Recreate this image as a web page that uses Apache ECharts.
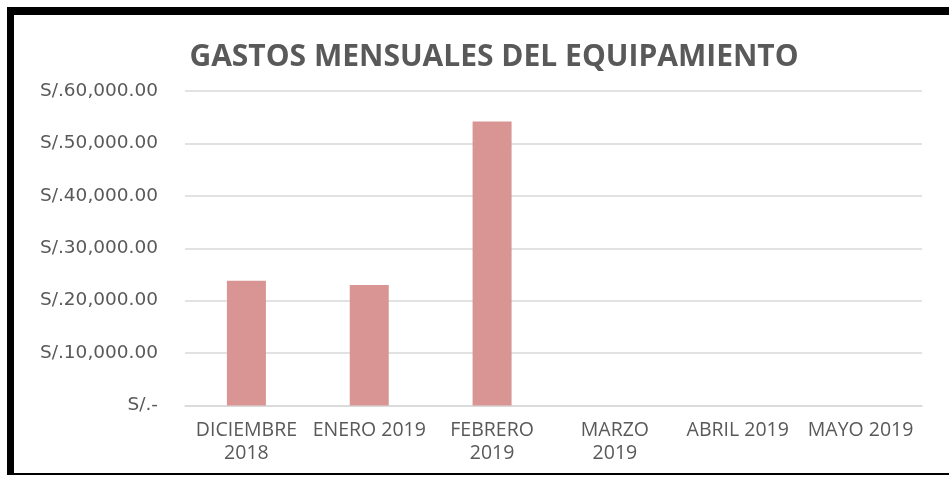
<!DOCTYPE html>
<html>
<head>
<meta charset="utf-8">
<script src="https://cdn.jsdelivr.net/npm/echarts@6/dist/echarts.min.js"></script>
<style>
  html, body { margin: 0; padding: 0; background: #ffffff; }
  #chart { position: absolute; left: 0; top: 0; width: 949px; height: 477px; }
  #frame { position: absolute; left: 7px; top: 7px; width: 942px; height: 468px;
           border-top: 8px solid #000; border-left: 7px solid #000; border-bottom: 2px solid #000;
           box-sizing: border-box; pointer-events: none; }
</style>
</head>
<body>
<div id="chart"></div>
<div id="frame"></div>
<script>
const titleText = 'GASTOS MENSUALES DEL EQUIPAMIENTO';
const categories = ['DICIEMBRE\n2018', 'ENERO 2019', 'FEBRERO\n2019', 'MARZO\n2019', 'ABRIL 2019', 'MAYO 2019'];
const gastos = [23800, 23000, 54200, null, null, null];
const yTicks = [0, 10000, 20000, 30000, 40000, 50000, 60000];

function fmtSoles(v) {
  if (v === 0) return 'S/.-';
  const s = v.toFixed(2).replace(/\B(?=(\d{3})+(?!\d))/g, ',');
  return 'S/.' + s;
}

const chart = echarts.init(document.getElementById('chart'));
chart.setOption({
  animation: false,
  backgroundColor: 'transparent',
  title: {
    text: titleText,
    left: 489,
    textAlign: 'center',
    top: 37,
    textStyle: { fontFamily: 'Open Sans', fontWeight: 'bold', fontSize: 30, color: '#595959' }
  },
  grid: { left: 185, right: 27, top: 91, bottom: 71.5, containLabel: false },
  xAxis: {
    type: 'category',
    data: categories,
    axisLine: { show: true, lineStyle: { color: '#d9d9d9', width: 1.5 } },
    axisTick: { show: false },
    axisLabel: {
      fontFamily: 'Open Sans', fontSize: 19.5, color: '#595959', margin: 13,
      lineHeight: 23, interval: 0
    }
  },
  yAxis: {
    type: 'value',
    min: yTicks[0],
    max: yTicks[yTicks.length - 1],
    interval: 10000,
    axisLine: { show: false },
    axisTick: { show: false },
    splitLine: { lineStyle: { color: '#d9d9d9', width: 1.5 } },
    axisLabel: {
      fontFamily: 'DejaVu Sans', fontSize: 18.5, color: '#595959', margin: 27,
      formatter: fmtSoles
    }
  },
  series: [{
    type: 'bar',
    data: gastos,
    barWidth: 39,
    itemStyle: { color: '#d99594' }
  }]
});
</script>
</body>
</html>
